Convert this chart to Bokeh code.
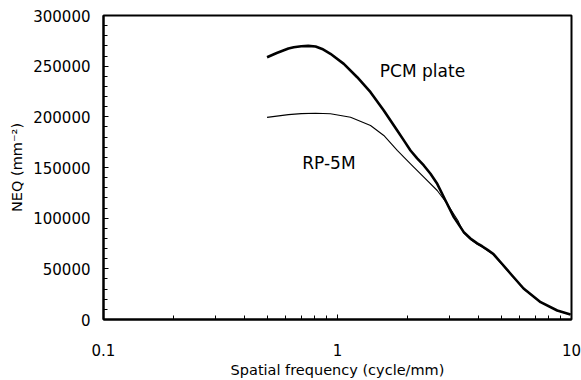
from bokeh.plotting import figure
from bokeh.embed import file_html
from bokeh.resources import INLINE
from bokeh.models import FixedTicker, SingleIntervalTicker, CustomJSTickFormatter, Range1d
from bokeh.core.properties import value

# Data
freq_pcm = [0.50, 0.55, 0.617, 0.65, 0.70, 0.75, 0.806, 0.86, 0.933, 1.064, 1.214, 1.384, 1.577,
            1.80, 1.93, 2.051, 2.19, 2.338, 2.497, 2.668, 2.894, 3.141, 3.465, 3.70, 3.954,
            4.15, 4.363, 4.64, 5.0, 5.48, 6.24, 7.38, 8.69, 9.90]
neq_pcm = [258800, 263000, 267400, 268700, 269700, 270000, 269400, 267000, 262200, 252300,
           239100, 224300, 206200, 186500, 176000, 166800, 159000, 152000, 143800, 133900,
           117400, 101000, 86200, 80000, 75200, 72300, 69000, 64600, 56000, 45400, 30600,
           17100, 8900, 4900]

freq_rp = [0.50, 0.617, 0.70, 0.806, 0.933, 1.137, 1.384, 1.577, 1.80, 2.051, 2.338, 2.668,
           2.94, 3.27, 3.465, 3.70, 3.954, 4.15, 4.363, 4.64, 5.0, 5.48, 6.24, 7.38, 8.69, 9.90]
neq_rp = [199500, 202200, 203200, 203600, 203000, 199600, 191400, 181600, 166800, 153600,
          140400, 127300, 114200, 97700, 85200, 79000, 74300, 71500, 68200, 63800, 55400,
          45000, 30300, 16900, 8800, 4800]

labels = ["PCM plate", "RP-5M"]
label_x = [1.517, 0.707]
label_y = [245700, 154200]

x_major = [0.1, 1, 10]
x_minor = [m * d for d in [0.1, 1] for m in range(2, 10)]

FONT = "DejaVu Sans"

p = figure(width=581, height=380, x_axis_type="log", output_backend="svg",
           toolbar_location=None, x_range=Range1d(0.1, 10), y_range=Range1d(0, 300000),
           min_border_left=103, min_border_right=10, min_border_top=15, min_border_bottom=61)

p.line(freq_pcm, neq_pcm, line_color="black", line_width=2.6, line_join="round")
p.line(freq_rp, neq_rp, line_color="black", line_width=1.1, line_join="round")

p.text(x=label_x, y=label_y, text=labels, text_font=value(FONT), text_font_size="17px",
       text_baseline="alphabetic", text_align="left", text_color="black")

p.xaxis.ticker = FixedTicker(ticks=x_major, minor_ticks=x_minor)
p.xaxis.formatter = CustomJSTickFormatter(code="return tick.toString();")
p.yaxis.ticker = SingleIntervalTicker(interval=50000, num_minor_ticks=5)
p.yaxis.formatter = CustomJSTickFormatter(code="return tick.toFixed(0);")

for ax in [p.xaxis[0], p.yaxis[0]]:
    ax.axis_line_width = 2
    ax.axis_line_color = "black"
    ax.major_tick_in = 5
    ax.major_tick_out = 0
    ax.minor_tick_in = 4
    ax.minor_tick_out = 0
    ax.major_tick_line_color = "black"
    ax.minor_tick_line_color = "black"
    ax.major_label_text_font = FONT
    ax.major_label_text_font_size = "15px"
    ax.major_label_text_color = "black"
    ax.axis_label_text_font = FONT
    ax.axis_label_text_font_size = "14.5px"
    ax.axis_label_text_font_style = "normal"
    ax.axis_label_text_color = "black"

p.xaxis.axis_label = "Spatial frequency (cycle/mm)"
p.yaxis.axis_label = "NEQ (mm⁻²)"
p.xaxis.major_label_standoff = 24
p.yaxis.major_label_standoff = 13
p.xaxis.axis_label_standoff = 3
p.yaxis.axis_label_standoff = 5

p.xgrid.visible = False
p.ygrid.visible = False
p.outline_line_color = "black"
p.outline_line_width = 2
p.background_fill_color = "white"
p.border_fill_color = "white"

open("out.html", "w").write(file_html(p, INLINE))
